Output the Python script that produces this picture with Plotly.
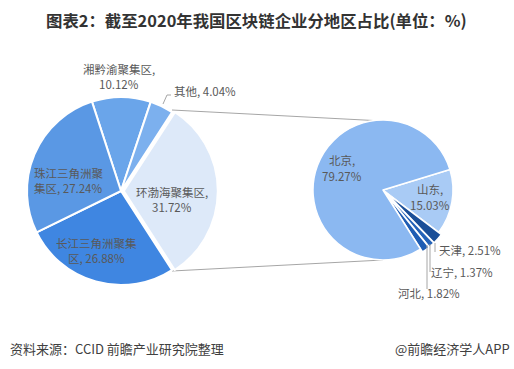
import plotly.graph_objects as go

# ---------------- data ----------------
region_labels = ["湘黔渝聚集区", "其他", "环渤海聚集区", "长江三角洲聚集区", "珠江三角洲聚集区"]
region_values = [10.12, 4.04, 31.72, 26.88, 27.24]

bohai_labels = ["山东", "天津", "辽宁", "河北", "北京"]
bohai_values = [15.03, 2.51, 1.37, 1.82, 79.27]

title_text = "图表2：截至2020年我国区块链企业分地区占比(单位：%)"
source_text = "资料来源：CCID 前瞻产业研究院整理"
brand_text = "@前瞻经济学人APP"

# ---------------- style ----------------
W, H = 514, 369
FONT = "Noto Sans CJK SC"
left_colors = ["#6aa5ea", "#7cb0ee", "#dde9f9", "#3f86e1", "#5a98e4"]
right_colors = ["#a9cbf5", "#1b4f98", "#2563b8", "#1f5db3", "#8bb8f1"]
label_color = "#595959"
line_color = "#a6a6a6"


def px_x(x):
    return x / W


def px_y(y):
    return 1 - y / H


fig = go.Figure()

# left pie: centre (121,191), r ~94
lp = 0.03
lr = 94 * (1 + lp)
fig.add_trace(go.Pie(
    labels=region_labels, values=region_values, sort=False,
    direction="clockwise", rotation=-18,
    marker=dict(colors=left_colors, line=dict(color="white", width=2)),
    pull=[0, 0, lp, 0, 0],
    textinfo="none", hoverinfo="label+value", showlegend=False,
    domain=dict(x=[px_x(121 - lr), px_x(121 + lr)], y=[px_y(191 + lr), px_y(191 - lr)]),
))

# right pie: centre (383,190), r ~70
rp = 0.05
rr = 70 * (1 + rp)
fig.add_trace(go.Pie(
    labels=bohai_labels, values=bohai_values, sort=False,
    direction="clockwise", rotation=73,
    marker=dict(colors=right_colors, line=dict(color="white", width=1.5)),
    pull=[0, rp, rp, rp, 0],
    textinfo="none", hoverinfo="label+value", showlegend=False,
    domain=dict(x=[px_x(383 - rr), px_x(383 + rr)], y=[px_y(190 + rr), px_y(190 - rr)]),
))


def lab(name, val, brk=None):
    s = f"{name}, {val:.2f}%"
    if brk is None:
        return [s]
    return [s[:brk], s[brk:].lstrip()]


annotations = []


def add_label(lines, x, y, xanchor="center", line_h=15):
    n = len(lines)
    for i, t in enumerate(lines):
        yy = y + (i - (n - 1) / 2) * line_h
        annotations.append(dict(
            text=t, x=px_x(x), y=px_y(yy), xref="paper", yref="paper",
            xanchor=xanchor, yanchor="middle", showarrow=False, borderpad=0,
            font=dict(family=FONT, size=11.5, color=label_color),
        ))


# left pie labels
add_label(lab(region_labels[0], region_values[0], 7), 119, 77)
add_label(lab(region_labels[1], region_values[1]), 173, 91, xanchor="left")
add_label(lab(region_labels[2], region_values[2], 7), 172, 199)
add_label(lab(region_labels[3], region_values[3], 7), 96, 250)
add_label(lab(region_labels[4], region_values[4], 6), 33, 180, xanchor="left")

# right pie labels
add_label(lab(bohai_labels[4], bohai_values[4], 3), 342, 168, line_h=16)
add_label(lab(bohai_labels[0], bohai_values[0], 3), 430, 197, line_h=16)
add_label(lab(bohai_labels[1], bohai_values[1]), 438, 250, xanchor="left")
add_label(lab(bohai_labels[2], bohai_values[2]), 430, 272, xanchor="left")
add_label(lab(bohai_labels[3], bohai_values[3]), 397, 293, xanchor="left")

# title & footer
annotations.append(dict(
    text="<b>" + title_text + "</b>", x=px_x(256), y=px_y(20), xref="paper", yref="paper",
    xanchor="center", yanchor="middle", showarrow=False,
    font=dict(family=FONT, size=16.4, color="#333333"),
))
annotations.append(dict(
    text=source_text, x=px_x(8), y=px_y(348), xref="paper", yref="paper",
    xanchor="left", yanchor="middle", showarrow=False,
    font=dict(family=FONT, size=13, color="#404040"),
))
annotations.append(dict(
    text=brand_text, x=px_x(512), y=px_y(348), xref="paper", yref="paper",
    xanchor="right", yanchor="middle", showarrow=False,
    font=dict(family=FONT, size=13, color="#404040"),
))

shapes = []


def seg(x0, y0, x1, y1, layer="below"):
    shapes.append(dict(type="line", xref="paper", yref="paper",
                       x0=px_x(x0), y0=px_y(y0), x1=px_x(x1), y1=px_y(y1),
                       line=dict(color=line_color, width=1), layer=layer))


# connector lines between pies
seg(172, 110, 383, 121)
seg(172, 271, 383, 260)
# leader lines
seg(163, 104, 167, 95, "above")
seg(167, 95, 171, 95, "above")
seg(435, 243, 435, 252, "above")
seg(430, 244, 430, 272, "above")
seg(427, 245, 427, 289, "above")

fig.update_layout(
    width=W, height=H, margin=dict(l=0, r=0, t=0, b=0),
    paper_bgcolor="white", plot_bgcolor="white",
    annotations=annotations, shapes=shapes,
    font=dict(family=FONT),
)

fig.write_html("out.html", config={"displayModeBar": False},
               post_script="document.body.style.margin='0';document.body.style.padding='0';")
